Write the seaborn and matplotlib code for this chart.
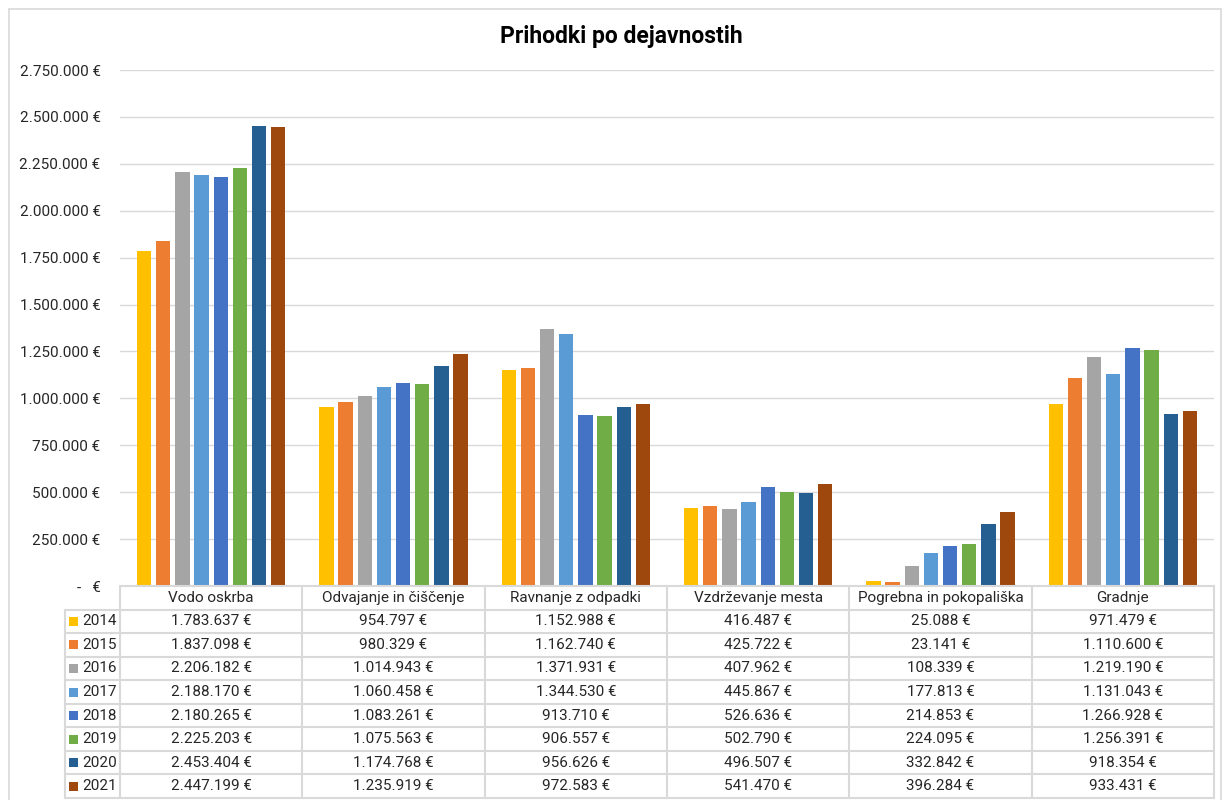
import numpy as np
import pandas as pd
import matplotlib
matplotlib.use("Agg")
import matplotlib.pyplot as plt
from matplotlib.ticker import FuncFormatter
from matplotlib.patches import Rectangle
from matplotlib.lines import Line2D
import seaborn as sns

# Data
categories = ["Vodo oskrba", "Odvajanje in čiščenje", "Ravnanje z odpadki",
              "Vzdrževanje mesta", "Pogrebna in pokopališka", "Gradnje"]
years = ["2014", "2015", "2016", "2017", "2018", "2019", "2020", "2021"]
values = {
    "2014": [1783637, 954797, 1152988, 416487, 25088, 971479],
    "2015": [1837098, 980329, 1162740, 425722, 23141, 1110600],
    "2016": [2206182, 1014943, 1371931, 407962, 108339, 1219190],
    "2017": [2188170, 1060458, 1344530, 445867, 177813, 1131043],
    "2018": [2180265, 1083261, 913710, 526636, 214853, 1266928],
    "2019": [2225203, 1075563, 906557, 502790, 224095, 1256391],
    "2020": [2453404, 1174768, 956626, 496507, 332842, 918354],
    "2021": [2447199, 1235919, 972583, 541470, 396284, 933431],
}
colors = ["#FFC000", "#ED7D31", "#A5A5A5", "#5B9BD5",
          "#4472C4", "#70AD47", "#255E91", "#9E480E"]
yticks = np.arange(0, 2750001, 250000)

rows = []
for y in years:
    for c, v in zip(categories, values[y]):
        rows.append({"cat": c, "year": y, "val": v})
df = pd.DataFrame(rows)

def eur(v):
    if v == 0:
        return "-   €"
    return f"{int(v):,}".replace(",", ".") + " €"

sns.set_theme(style="white")
plt.rcParams["font.family"] = ["Roboto", "DejaVu Sans"]

W, H = 1222, 800
fs = 11
tc = "#262626"
fig = plt.figure(figsize=(W / 100, H / 100), dpi=100)
fig.patch.set_facecolor("white")

# outer chart border
bc = "#D9D9D9"
fig.add_artist(Line2D([9 / W, 1221 / W], [1 - 9 / H, 1 - 9 / H], color=bc, lw=1.2))
fig.add_artist(Line2D([9 / W, 9 / W], [1 - 9 / H, 0], color=bc, lw=1.2))
fig.add_artist(Line2D([1221 / W, 1221 / W], [1 - 9 / H, 0], color=bc, lw=1.2))

# main plot
left, right, top, bottom = 120, 1214, 70, 586
ax = fig.add_axes([left / W, 1 - bottom / H, (right - left) / W, (bottom - top) / H])
sns.barplot(data=df, x="cat", y="val", hue="year", palette=colors,
            width=0.84, gap=0.25, ax=ax, legend=False, linewidth=0, saturation=1)
ax.set_xlim(-0.5, len(categories) - 0.5)
ax.set_ylim(0, 2750000)
ax.set_yticks(yticks)
ax.yaxis.set_major_formatter(FuncFormatter(lambda v, p: eur(v)))
ax.tick_params(axis="y", length=0, pad=14, labelsize=fs, colors=tc)
ax.set_xticks([])
ax.set_xlabel("")
ax.set_ylabel("")
ax.grid(axis="y", color=bc, lw=1)
ax.set_axisbelow(True)
for s in ax.spines.values():
    s.set_visible(False)

fig.text(621 / W, 1 - 37 / H, "Prihodki po dejavnostih", ha="center", va="center",
         fontsize=16.5, fontweight="bold", color="black")

# data table
tbot = 798
tax = fig.add_axes([left / W, 1 - tbot / H, (right - left) / W, (tbot - bottom) / H])
n = len(years) + 1
tax.set_xlim(-0.5, len(categories) - 0.5)
tax.set_ylim(n, 0)
tax.axis("off")
lab_x = -0.5 - 55 / 182
lc = "#D9D9D9"
tax.plot([-0.5, len(categories) - 0.5], [0, 0], color=lc, lw=1.5, clip_on=False)
for r in range(1, n + 1):
    tax.plot([lab_x, len(categories) - 0.5], [r, r], color=lc, lw=1.5, clip_on=False)
tax.plot([lab_x, lab_x], [1, n], color=lc, lw=1.5, clip_on=False)
for c in range(len(categories) + 1):
    tax.plot([c - 0.5, c - 0.5], [0, n], color=lc, lw=1.5, clip_on=False)

for i, c in enumerate(categories):
    tax.text(i, 0.5, c, ha="center", va="center", fontsize=fs, color=tc)
sq_w = 9 / 182
sq_h = 9 / ((tbot - bottom) / n)
for r, (y, col) in enumerate(zip(years, colors), start=1):
    tax.add_patch(Rectangle((lab_x + 4 / 182, r + 0.5 - sq_h / 2), sq_w, sq_h,
                            facecolor=col, edgecolor="none", clip_on=False))
    tax.text(-0.5 - 3 / 182, r + 0.5, y, ha="right", va="center", fontsize=fs, color=tc)
    for i, v in enumerate(values[y]):
        tax.text(i, r + 0.5, eur(v), ha="center", va="center", fontsize=fs, color=tc)

fig.savefig("out.png", dpi=100)
